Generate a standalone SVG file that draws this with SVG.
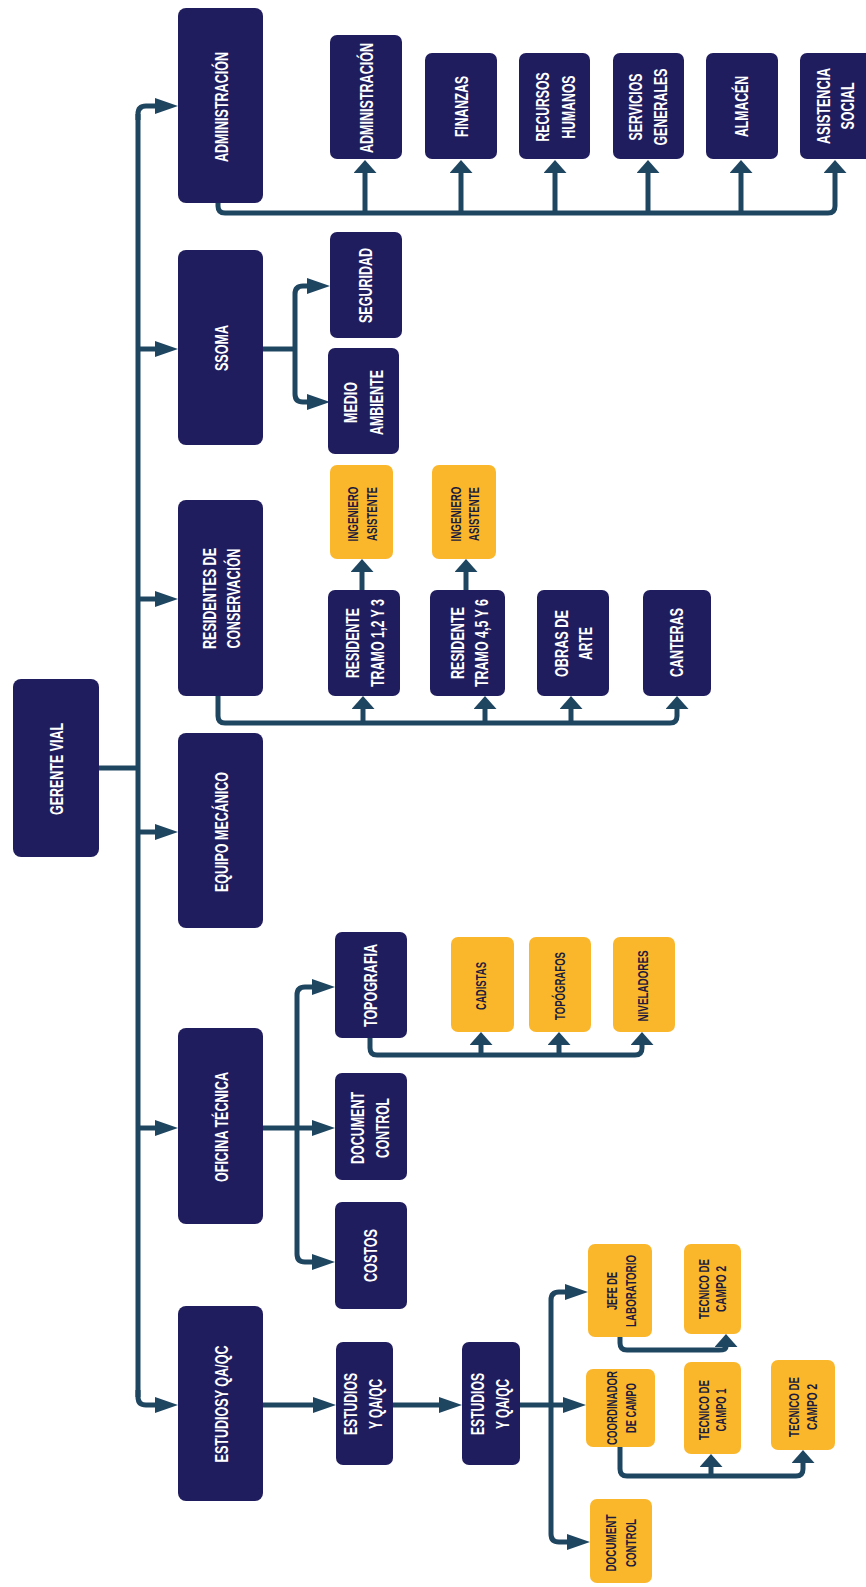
<svg xmlns="http://www.w3.org/2000/svg" width="866" height="1587" viewBox="0 0 866 1587">
  <defs>
    <style>
      .nv rect { fill: #201d5e; }
      .yl rect { fill: #fbb72c; }
      .nv text { fill: #ffffff; font-family: "Liberation Sans", Arial, sans-serif; font-weight: bold; font-size: 19px; text-anchor: middle; }
      .yl text { fill: #1c1b3c; font-family: "Liberation Sans", Arial, sans-serif; font-weight: bold; font-size: 15px; text-anchor: middle; }
      #connectors path { fill: none; stroke: #1f4660; stroke-width: 5; }
      .ar { marker-end: url(#arrowR); }
      .au { marker-end: url(#arrowU); }
    </style>
    <!-- horizontal arrowheads are long and narrow, vertical ones short and wide -->
    <marker id="arrowR" markerUnits="userSpaceOnUse" markerWidth="24" markerHeight="16" refX="0" refY="8" orient="auto">
      <path d="M0,0 L23,8 L0,16 z" fill="#1f4660"/>
    </marker>
    <marker id="arrowU" markerUnits="userSpaceOnUse" markerWidth="14" markerHeight="24" refX="0" refY="11.5" orient="auto">
      <path d="M0,0 L13,11.5 L0,23 z" fill="#1f4660"/>
    </marker>
  </defs>

  <rect x="0" y="0" width="866" height="1587" fill="#ffffff"/>

  <g id="connectors">
    <!-- main trunk -->
    <path d="M138,114 V1397"/>
    <path d="M99,768 H138"/>
    <path class="ar" d="M138,120 V114 Q138,106 146,106 H155"/>
    <path class="ar" d="M138,349 H155"/>
    <path class="ar" d="M138,599 H155"/>
    <path class="ar" d="M138,832 H155"/>
    <path class="ar" d="M138,1128 H155"/>
    <path class="ar" d="M138,1390 V1397 Q138,1405 146,1405 H155"/>
    <!-- administración bus -->
    <path class="au" d="M218,203 V206 Q218,213 225,213 H828 Q835,213 835,206 V173"/>
    <path class="au" d="M365,213 V173"/>
    <path class="au" d="M461,213 V173"/>
    <path class="au" d="M555,213 V173"/>
    <path class="au" d="M648,213 V173"/>
    <path class="au" d="M741,213 V173"/>
    <!-- ssoma branch -->
    <path d="M263,349 H295"/>
    <path class="ar" d="M295,349 V294 Q295,286 303,286 H307"/>
    <path class="ar" d="M295,349 V394 Q295,402 303,402 H307"/>
    <!-- residentes bus -->
    <path class="au" d="M218,696 V716 Q218,723 225,723 H670 Q677,723 677,716 V709"/>
    <path class="au" d="M363,723 V709"/>
    <path class="au" d="M485,723 V709"/>
    <path class="au" d="M571,723 V709"/>
    <path class="au" d="M362,590 V572"/>
    <path class="au" d="M466,590 V572"/>
    <!-- oficina técnica branch -->
    <path d="M263,1128 H297"/>
    <path class="ar" d="M297,1128 V995 Q297,987 305,987 H312"/>
    <path class="ar" d="M297,1128 H312"/>
    <path class="ar" d="M297,1128 V1254 Q297,1262 305,1262 H312"/>
    <!-- topografía bus -->
    <path class="au" d="M370,1038 V1048 Q370,1055 377,1055 H635 Q642,1055 642,1048 V1045"/>
    <path class="au" d="M481,1055 V1045"/>
    <path class="au" d="M559,1055 V1045"/>
    <!-- estudios chain -->
    <path class="ar" d="M263,1405 H313"/>
    <path class="ar" d="M393,1405 H439"/>
    <path d="M520,1405 H551"/>
    <path class="ar" d="M551,1405 V1300 Q551,1292 559,1292 H565"/>
    <path class="ar" d="M551,1405 H563"/>
    <path class="ar" d="M551,1405 V1534 Q551,1542 559,1542 H567"/>
    <path class="au" d="M620,1337 V1343 Q620,1350 627,1350 H719 Q726,1350 726,1347"/>
    <path class="au" d="M620,1447 V1469 Q620,1476 627,1476 H796 Q803,1476 803,1469 V1463"/>
    <path class="au" d="M711,1476 V1467"/>
  </g>

  <!-- top level -->
  <g id="gerente-vial" class="nv">
    <rect x="13" y="679" width="86" height="178" rx="8"/>
    <text transform="translate(62.5,769) rotate(-90)" textLength="92" lengthAdjust="spacingAndGlyphs">GERENTE VIAL</text>
  </g>
  <g id="administracion" class="nv">
    <rect x="178" y="8" width="85" height="195" rx="8"/>
    <text transform="translate(228,107) rotate(-90) scale(0.66,1)">ADMINISTRACIÓN</text>
  </g>
  <g id="ssoma" class="nv">
    <rect x="178" y="250" width="85" height="195" rx="8"/>
    <text transform="translate(228,348) rotate(-90)" textLength="46" lengthAdjust="spacingAndGlyphs">SSOMA</text>
  </g>
  <g id="residentes" class="nv">
    <rect x="178" y="500" width="85" height="196" rx="8"/>
    <text transform="translate(215.5,598.5) rotate(-90)" textLength="101" lengthAdjust="spacingAndGlyphs">RESIDENTES DE</text>
    <text transform="translate(240,598.5) rotate(-90)" textLength="100" lengthAdjust="spacingAndGlyphs">CONSERVACIÓN</text>
  </g>
  <g id="equipo-mecanico" class="nv">
    <rect x="178" y="733" width="85" height="195" rx="8"/>
    <text transform="translate(228,832) rotate(-90)" textLength="120" lengthAdjust="spacingAndGlyphs">EQUIPO MECÁNICO</text>
  </g>
  <g id="oficina-tecnica" class="nv">
    <rect x="178" y="1028" width="85" height="196" rx="8"/>
    <text transform="translate(228,1127) rotate(-90)" textLength="110" lengthAdjust="spacingAndGlyphs">OFICINA TÉCNICA</text>
  </g>
  <g id="estudios-qaqc" class="nv">
    <rect x="178" y="1306" width="85" height="195" rx="8"/>
    <text transform="translate(228,1404) rotate(-90)" textLength="117" lengthAdjust="spacingAndGlyphs">ESTUDIOSY QA/QC</text>
  </g>

  <!-- administración -->
  <g id="adm-administracion" class="nv">
    <rect x="330" y="35" width="72" height="124" rx="7"/>
    <text transform="translate(373,98) rotate(-90) scale(0.66,1)">ADMINISTRACIÓN</text>
  </g>
  <g id="adm-finanzas" class="nv">
    <rect x="425" y="53" width="72" height="106" rx="7"/>
    <text transform="translate(467.5,106.5) rotate(-90)" textLength="61" lengthAdjust="spacingAndGlyphs">FINANZAS</text>
  </g>
  <g id="adm-rrhh" class="nv">
    <rect x="519" y="53" width="71" height="106" rx="7"/>
    <text transform="translate(549,107) rotate(-90)" textLength="69" lengthAdjust="spacingAndGlyphs">RECURSOS</text>
    <text transform="translate(575,107) rotate(-90)" textLength="63" lengthAdjust="spacingAndGlyphs">HUMANOS</text>
  </g>
  <g id="adm-servicios" class="nv">
    <rect x="613" y="53" width="71" height="106" rx="7"/>
    <text transform="translate(642,107) rotate(-90)" textLength="67" lengthAdjust="spacingAndGlyphs">SERVICIOS</text>
    <text transform="translate(667,107) rotate(-90)" textLength="77" lengthAdjust="spacingAndGlyphs">GENERALES</text>
  </g>
  <g id="adm-almacen" class="nv">
    <rect x="706" y="53" width="72" height="106" rx="7"/>
    <text transform="translate(748,106.5) rotate(-90)" textLength="61" lengthAdjust="spacingAndGlyphs">ALMACÉN</text>
  </g>
  <g id="adm-asistencia" class="nv">
    <rect x="800" y="53" width="72" height="106" rx="7"/>
    <text transform="translate(830,106) rotate(-90)" textLength="76" lengthAdjust="spacingAndGlyphs">ASISTENCIA</text>
    <text transform="translate(854,106) rotate(-90)" textLength="47" lengthAdjust="spacingAndGlyphs">SOCIAL</text>
  </g>

  <!-- ssoma -->
  <g id="ssoma-seguridad" class="nv">
    <rect x="330" y="232" width="72" height="106" rx="7"/>
    <text transform="translate(371.5,285.5) rotate(-90)" textLength="75" lengthAdjust="spacingAndGlyphs">SEGURIDAD</text>
  </g>
  <g id="ssoma-medio-ambiente" class="nv">
    <rect x="328" y="348" width="71" height="106" rx="7"/>
    <text transform="translate(357,402.5) rotate(-90)" textLength="41" lengthAdjust="spacingAndGlyphs">MEDIO</text>
    <text transform="translate(383,402.5) rotate(-90)" textLength="65" lengthAdjust="spacingAndGlyphs">AMBIENTE</text>
  </g>

  <!-- residentes de conservación -->
  <g id="res-ingeniero-1" class="yl">
    <rect x="330" y="465" width="63" height="94" rx="7"/>
    <text transform="translate(357.5,514) rotate(-90)" textLength="55" lengthAdjust="spacingAndGlyphs">INGENIERO</text>
    <text transform="translate(376.5,514) rotate(-90)" textLength="54" lengthAdjust="spacingAndGlyphs">ASISTENTE</text>
  </g>
  <g id="res-ingeniero-2" class="yl">
    <rect x="432" y="465" width="64" height="94" rx="7"/>
    <text transform="translate(460.5,514) rotate(-90)" textLength="55" lengthAdjust="spacingAndGlyphs">INGENIERO</text>
    <text transform="translate(478.5,514) rotate(-90)" textLength="54" lengthAdjust="spacingAndGlyphs">ASISTENTE</text>
  </g>
  <g id="res-tramo-123" class="nv">
    <rect x="328" y="590" width="72" height="106" rx="7"/>
    <text transform="translate(359,643) rotate(-90)" textLength="70" lengthAdjust="spacingAndGlyphs">RESIDENTE</text>
    <text transform="translate(384,643) rotate(-90)" textLength="88" lengthAdjust="spacingAndGlyphs">TRAMO 1,2 Y 3</text>
  </g>
  <g id="res-tramo-456" class="nv">
    <rect x="430" y="590" width="75" height="106" rx="7"/>
    <text transform="translate(464,643) rotate(-90)" textLength="72" lengthAdjust="spacingAndGlyphs">RESIDENTE</text>
    <text transform="translate(488,643) rotate(-90)" textLength="88" lengthAdjust="spacingAndGlyphs">TRAMO 4,5 Y 6</text>
  </g>
  <g id="res-obras-arte" class="nv">
    <rect x="537" y="590" width="72" height="106" rx="7"/>
    <text transform="translate(567.5,643.5) rotate(-90)" textLength="67" lengthAdjust="spacingAndGlyphs">OBRAS DE</text>
    <text transform="translate(591.5,643.5) rotate(-90)" textLength="33" lengthAdjust="spacingAndGlyphs">ARTE</text>
  </g>
  <g id="res-canteras" class="nv">
    <rect x="643" y="590" width="68" height="106" rx="7"/>
    <text transform="translate(683,642.5) rotate(-90)" textLength="69" lengthAdjust="spacingAndGlyphs">CANTERAS</text>
  </g>

  <!-- oficina técnica -->
  <g id="of-topografia" class="nv">
    <rect x="335" y="932" width="72" height="106" rx="7"/>
    <text transform="translate(377,985.5) rotate(-90)" textLength="83" lengthAdjust="spacingAndGlyphs">TOPOGRAFIA</text>
  </g>
  <g id="of-document-control" class="nv">
    <rect x="335" y="1073" width="72" height="107" rx="7"/>
    <text transform="translate(363.5,1128) rotate(-90)" textLength="72" lengthAdjust="spacingAndGlyphs">DOCUMENT</text>
    <text transform="translate(388.5,1128) rotate(-90)" textLength="60" lengthAdjust="spacingAndGlyphs">CONTROL</text>
  </g>
  <g id="of-costos" class="nv">
    <rect x="335" y="1202" width="72" height="107" rx="7"/>
    <text transform="translate(377,1255.5) rotate(-90)" textLength="53" lengthAdjust="spacingAndGlyphs">COSTOS</text>
  </g>
  <g id="topo-cadistas" class="yl">
    <rect x="451" y="937" width="63" height="95" rx="7"/>
    <text transform="translate(485.5,986) rotate(-90)" textLength="48" lengthAdjust="spacingAndGlyphs">CADISTAS</text>
  </g>
  <g id="topo-topografos" class="yl">
    <rect x="529" y="937" width="62" height="95" rx="7"/>
    <text transform="translate(565,986) rotate(-90)" textLength="68" lengthAdjust="spacingAndGlyphs">TOPÓGRAFOS</text>
  </g>
  <g id="topo-niveladores" class="yl">
    <rect x="613" y="937" width="62" height="95" rx="7"/>
    <text transform="translate(647.5,986) rotate(-90)" textLength="71" lengthAdjust="spacingAndGlyphs">NIVELADORES</text>
  </g>

  <!-- estudios y qa/qc -->
  <g id="est-estudios-1" class="nv">
    <rect x="336" y="1342" width="57" height="123" rx="7"/>
    <text transform="translate(357,1404) rotate(-90)" textLength="62" lengthAdjust="spacingAndGlyphs">ESTUDIOS</text>
    <text transform="translate(382,1404) rotate(-90)" textLength="50" lengthAdjust="spacingAndGlyphs">Y QA/QC</text>
  </g>
  <g id="est-estudios-2" class="nv">
    <rect x="462" y="1342" width="58" height="123" rx="7"/>
    <text transform="translate(484,1404) rotate(-90)" textLength="62" lengthAdjust="spacingAndGlyphs">ESTUDIOS</text>
    <text transform="translate(509,1404) rotate(-90)" textLength="50" lengthAdjust="spacingAndGlyphs">Y QA/QC</text>
  </g>
  <g id="est-jefe-laboratorio" class="yl">
    <rect x="588" y="1244" width="64" height="93" rx="7"/>
    <text transform="translate(616.5,1291) rotate(-90)" textLength="38" lengthAdjust="spacingAndGlyphs">JEFE DE</text>
    <text transform="translate(635.5,1291) rotate(-90)" textLength="72" lengthAdjust="spacingAndGlyphs">LABORATORIO</text>
  </g>
  <g id="est-coordinador" class="yl">
    <rect x="586" y="1369" width="69" height="78" rx="7"/>
    <text transform="translate(616.5,1408) rotate(-90)" textLength="74" lengthAdjust="spacingAndGlyphs">COORDINADOR</text>
    <text transform="translate(635.5,1408) rotate(-90)" textLength="50" lengthAdjust="spacingAndGlyphs">DE CAMPO</text>
  </g>
  <g id="est-document-control" class="yl">
    <rect x="590" y="1499" width="62" height="84" rx="7"/>
    <text transform="translate(615.5,1543) rotate(-90)" textLength="57" lengthAdjust="spacingAndGlyphs">DOCUMENT</text>
    <text transform="translate(635.5,1543) rotate(-90)" textLength="48" lengthAdjust="spacingAndGlyphs">CONTROL</text>
  </g>
  <g id="est-tecnico-lab" class="yl">
    <rect x="684" y="1244" width="57" height="90" rx="7"/>
    <text transform="translate(708.5,1289) rotate(-90)" textLength="60" lengthAdjust="spacingAndGlyphs">TECNICO DE</text>
    <text transform="translate(725.5,1289) rotate(-90)" textLength="46" lengthAdjust="spacingAndGlyphs">CAMPO 2</text>
  </g>
  <g id="est-tecnico-1" class="yl">
    <rect x="684" y="1362" width="57" height="92" rx="7"/>
    <text transform="translate(708.5,1410) rotate(-90)" textLength="60" lengthAdjust="spacingAndGlyphs">TECNICO DE</text>
    <text transform="translate(725.5,1410) rotate(-90)" textLength="43" lengthAdjust="spacingAndGlyphs">CAMPO 1</text>
  </g>
  <g id="est-tecnico-2" class="yl">
    <rect x="771" y="1360" width="64" height="90" rx="7"/>
    <text transform="translate(798.5,1407) rotate(-90)" textLength="60" lengthAdjust="spacingAndGlyphs">TECNICO DE</text>
    <text transform="translate(816.5,1407) rotate(-90)" textLength="46" lengthAdjust="spacingAndGlyphs">CAMPO 2</text>
  </g>
</svg>
